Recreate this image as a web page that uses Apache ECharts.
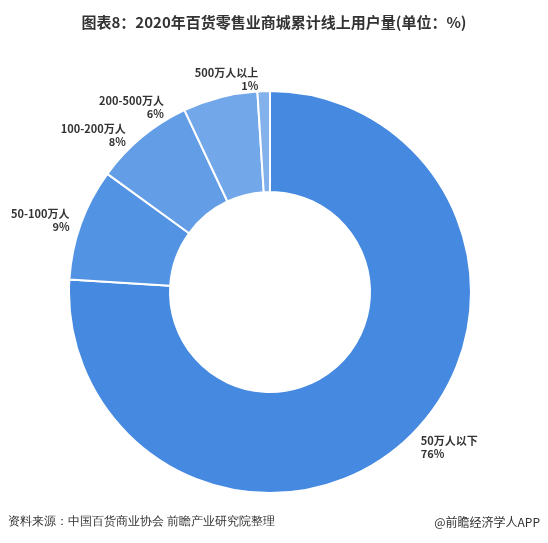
<!DOCTYPE html><html><head><meta charset="utf-8"><script src="https://cdn.jsdelivr.net/npm/echarts@6/dist/echarts.min.js"></script></head><body style="margin:0"><div id="c" style="width:548px;height:543px"></div><script>
const categories=['50万人以下','50-100万人','100-200万人','200-500万人','500万人以上'];
const values=[76,9,8,6,1];
const colors=['#4589e0','#5393e3','#629de6','#72a7e9','#82b1ec'];
const ch=echarts.init(document.getElementById('c'));
ch.setOption({backgroundColor:'#fff',
title:{text:'图表8：2020年百货零售业商城累计线上用户量(单位：%)',left:'center',top:10,textStyle:{fontSize:15,fontWeight:'bold',color:'#333',fontFamily:'Noto Sans CJK SC'}},
graphic:[{type:'text',left:8,top:516,style:{text:'资料来源：中国百货商业协会 前瞻产业研究院整理',fontSize:12,fill:'#333',font:'12px Noto Sans CJK SC'}},
{type:'text',right:8,top:516,style:{text:'@前瞻经济学人APP',fill:'#333',font:'12px Noto Sans CJK SC'}}],
series:[{type:'pie',center:[270,292],radius:[100,201],startAngle:90,clockwise:true,
itemStyle:{borderColor:'#fff',borderWidth:2},
label:{show:true,position:'outside',overflow:'none',formatter:'{b}\n{c}%',fontSize:11,fontWeight:'bold',color:'#333',lineHeight:13,fontFamily:'Noto Sans CJK SC',align:'center'},
labelLine:{show:false,length:12,length2:0},
data:categories.map((n,i)=>({name:n,value:values[i],itemStyle:{color:colors[i]}}))}]});
</script></body></html>
